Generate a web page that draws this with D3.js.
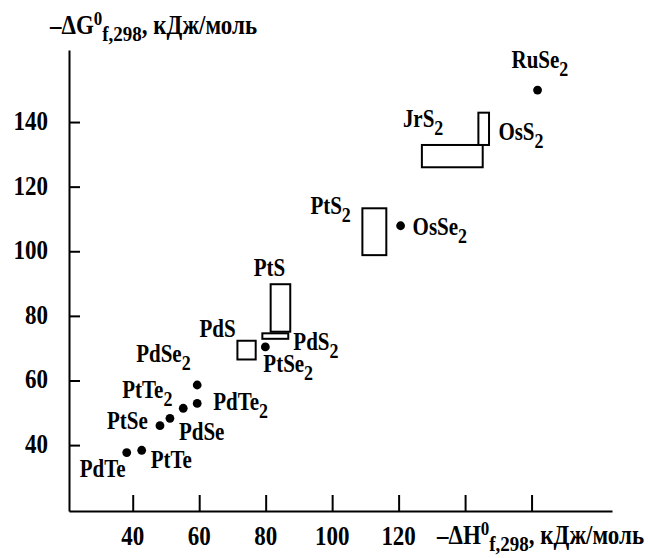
<!DOCTYPE html>
<html>
<head>
<meta charset="utf-8">
<script src="https://cdn.jsdelivr.net/npm/d3@7/dist/d3.min.js"></script>
<style>
  html, body { margin: 0; padding: 0; background: #fff; }
  svg { display: block; }
  text { font-family: "Liberation Serif", "Times New Roman", serif; font-weight: bold; fill: #000; }
</style>
</head>
<body>
<svg id="chart" width="648" height="558"></svg>
<script>
// Compounds known as single values (dots): -ΔH°f,298 and -ΔG°f,298, kJ/mol
const dotNames = ["RuSe2", "OsSe2", "PtSe2", "PdSe2", "PdTe2", "PtTe2", "PdSe", "PtSe", "PdTe", "PtTe"];
const dotH     = [161.8, 120.6, 79.9, 59.4, 59.4, 55.2, 51.2, 48.2, 38.2, 42.7];
const dotG     = [149.9, 107.9, 70.4, 58.6, 52.9, 51.4, 48.3, 46.0, 37.7, 38.4];

// Compounds known as ranges (boxes): [min, max] of -ΔH and -ΔG
const boxNames = ["PtS2", "JrS2", "OsS2", "PtS", "PdS2", "PdS"];
const boxHmin  = [109.1, 127.0, 144.0, 81.5, 79.0, 71.5];
const boxHmax  = [116.3, 145.3, 147.2, 87.4, 86.8, 77.0];
const boxGmin  = [98.8, 126.0, 132.9, 75.1, 72.9, 66.5];
const boxGmax  = [113.3, 132.9, 142.9, 89.8, 74.6, 72.3];

// Axis ticks
const xTicks = [40, 60, 80, 100, 120];
const xTickMarks = [40, 60, 80, 100, 120, 140, 160];
const yTicks = [40, 60, 80, 100, 120, 140];

// Label placement (pixel offsets from a dot centre or a box's top-left corner)
const dotLabelOffset = {
  RuSe2: [-26, -22], OsSe2: [12, 9], PtSe2: [-2, 25], PdSe2: [-61, -23],
  PdTe2: [16, 7], PtTe2: [-61, -10], PdSe: [9, 22], PtSe: [-53, 3],
  PdTe: [-47, 24], PtTe: [9, 18]
};
const boxLabelOffset = {
  PtS2: [-52, 6], JrS2: [-19, -18], OsS2: [20, 27], PtS: [-17, -8],
  PdS2: [31, 17], PdS: [-38, -4]
};

// Glyphs are drawn slightly taller than wide
const STRETCH = 1.15;

const svg = d3.select("#chart");

const x = d3.scaleLinear().domain([20.83, 184.2]).range([69, 612]);
const y = d3.scaleLinear().domain([19.6, 162.3]).range([511, 50]);

// Text placed at (px, py) baseline, stretched vertically
function stretchedText(sel, px, py, size) {
  return sel.append("text")
    .attr("transform", `translate(${px},${py}) scale(1,${STRETCH})`)
    .attr("font-size", size);
}

// Axes with inward ticks
const xAxis = svg.append("g")
  .attr("transform", `translate(0,${y.range()[0]})`)
  .call(d3.axisBottom(x).tickValues(xTickMarks).tickSizeInner(-16).tickSizeOuter(0).tickFormat(""));
const yAxis = svg.append("g")
  .attr("transform", `translate(${x.range()[0]},0)`)
  .call(d3.axisLeft(y).tickValues(yTicks).tickSizeInner(-11).tickSizeOuter(0).tickFormat(""));

[xAxis, yAxis].forEach(g => {
  g.select(".domain").attr("stroke", "#000").attr("stroke-width", 2);
  g.selectAll(".tick line").attr("stroke", "#000").attr("stroke-width", 2);
});

// Tick labels
const tickLabels = svg.append("g");
yTicks.forEach(v => {
  stretchedText(tickLabels, 48, y(v) + 8, 23).attr("text-anchor", "end").text(v);
});
xTicks.forEach(v => {
  stretchedText(tickLabels, x(v), 545, 23).attr("text-anchor", "middle").text(v);
});

// Label helper: formula with trailing digit drawn as a subscript
function formula(sel, name, px, py) {
  const t = stretchedText(sel, px, py, 21);
  const m = name.match(/^(.*?)(\d*)$/);
  t.append("tspan").text(m[1]);
  if (m[2]) t.append("tspan").attr("dy", 7).attr("font-size", 18).text(m[2]);
}

// Boxes
const boxes = svg.append("g");
boxNames.forEach((n, i) => {
  const x0 = x(boxHmin[i]), x1 = x(boxHmax[i]);
  const y0 = y(boxGmax[i]), y1 = y(boxGmin[i]);
  boxes.append("rect")
    .attr("x", x0).attr("y", y0)
    .attr("width", x1 - x0).attr("height", y1 - y0)
    .attr("fill", "none").attr("stroke", "#000").attr("stroke-width", 2);
  const o = boxLabelOffset[n];
  formula(boxes, n, x0 + o[0], y0 + o[1]);
});

// Dots
const dots = svg.append("g");
dotNames.forEach((n, i) => {
  const cx = x(dotH[i]), cy = y(dotG[i]);
  dots.append("circle").attr("cx", cx).attr("cy", cy).attr("r", 4.4).attr("fill", "#000");
  const o = dotLabelOffset[n];
  formula(dots, n, cx + o[0], cy + o[1]);
});

// Axis titles: –ΔX⁰ with subscript f,298, then the unit
function axisTitle(px, py, symbol) {
  const t = stretchedText(svg, px, py, 23);
  t.append("tspan").text("–Δ" + symbol);
  t.append("tspan").attr("dy", -8).attr("font-size", 17).text("0");
  t.append("tspan").attr("dy", 14).attr("font-size", 19).text("f,298");
  t.append("tspan").attr("dy", -6).text(", кДж/моль");
}
axisTitle(50, 34, "G");
axisTitle(437, 544, "H");
</script>
</body>
</html>
